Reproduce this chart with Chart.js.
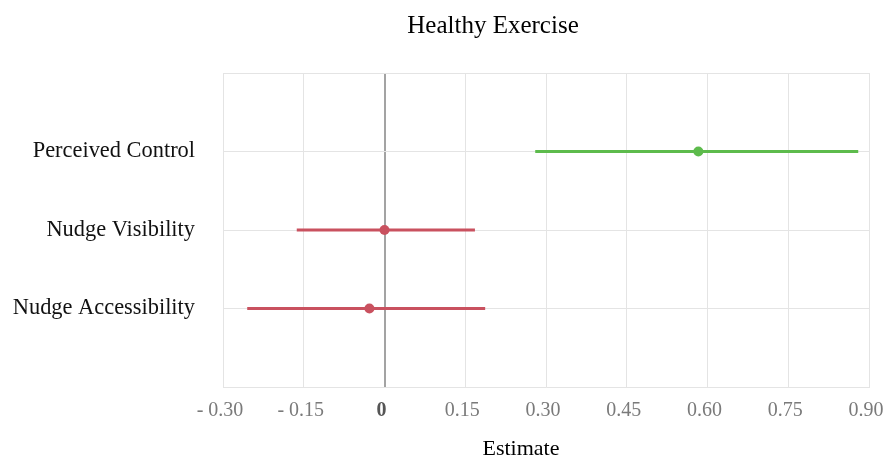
<!DOCTYPE html>
<html>
<head>
<meta charset="utf-8">
<script src="https://cdn.jsdelivr.net/npm/chart.js@4"></script>
<style>
  html, body { margin: 0; padding: 0; background: #ffffff; }
  #wrap { width: 883px; height: 457px; position: relative; }
</style>
</head>
<body>
<div id="wrap"><canvas id="c" width="883" height="457"></canvas></div>
<script>
// ---- data ----
const chartTitle = 'Healthy Exercise';
const axisTitle = 'Estimate';
const categories = ['Perceived Control', 'Nudge Visibility', 'Nudge Accessibility'];
const estimates = [0.583, 0.000, -0.028];
const lowerCI = [0.280, -0.163, -0.255];
const upperCI = [0.880, 0.168, 0.187];
const seriesColors = ['#5dbb4c', '#c9515f', '#c9515f'];
const xTickValues = [-0.30, -0.15, 0, 0.15, 0.30, 0.45, 0.60, 0.75, 0.90];
const xTickLabels = ['- 0.30', '- 0.15', '0', '0.15', '0.30', '0.45', '0.60', '0.75', '0.90'];

const FONT = "'Liberation Serif', 'Times New Roman', serif";

const datasets = [];
categories.forEach((cat, i) => {
  datasets.push({
    label: cat + ' CI',
    data: [{x: lowerCI[i], y: i + 1}, {x: upperCI[i], y: i + 1}],
    showLine: true,
    borderColor: seriesColors[i],
    borderWidth: 3,
    pointRadius: 0,
    pointHoverRadius: 0,
    fill: false
  });
});
datasets.push({
  label: 'Estimate',
  data: estimates.map((v, i) => ({x: v, y: i + 1})),
  showLine: false,
  pointRadius: 5,
  pointHoverRadius: 5,
  backgroundColor: seriesColors,
  borderColor: seriesColors,
  borderWidth: 0
});

const textPlugin = {
  id: 'titles',
  afterDraw(chart) {
    const ctx = chart.ctx;
    ctx.save();
    ctx.fillStyle = '#000000';
    ctx.textAlign = 'center';
    ctx.textBaseline = 'alphabetic';
    ctx.font = '25px ' + FONT;
    ctx.fillText(chartTitle, 493, 33);
    ctx.font = '22px ' + FONT;
    ctx.fillText(axisTitle, 521, 455);
    ctx.restore();
  }
};

new Chart(document.getElementById('c'), {
  type: 'scatter',
  data: { datasets },
  options: {
    responsive: false,
    animation: false,
    events: [],
    layout: { padding: { top: 73, right: 14, left: 0, bottom: 0 } },
    plugins: {
      legend: { display: false },
      tooltip: { enabled: false },
      title: { display: false }
    },
    scales: {
      x: {
        type: 'linear',
        min: -0.30,
        max: 0.90,
        afterBuildTicks(scale) { scale.ticks = xTickValues.map(v => ({ value: v })); },
        afterFit(scale) { scale.height = 70; scale.paddingLeft = 0; scale.paddingRight = 0; },
        ticks: {
          autoSkip: false,
          maxRotation: 0,
          padding: 12,
          labelOffset: -3,
          callback: (value, index) => xTickLabels[index],
          color: (ctx) => ctx.tick && ctx.tick.value === 0 ? '#555555' : '#7a7a7a',
          font: (ctx) => ({ family: FONT, size: 20, weight: ctx.tick && ctx.tick.value === 0 ? 'bold' : 'normal' })
        },
        grid: {
          drawTicks: false,
          color: (ctx) => ctx.tick && ctx.tick.value === 0 ? '#a3a3a3' : '#e4e4e4',
          lineWidth: (ctx) => ctx.tick && ctx.tick.value === 0 ? 2 : 1
        },
        border: { display: true, color: '#e4e4e4', width: 1 }
      },
      y: {
        type: 'linear',
        min: 0,
        max: 4,
        reverse: true,
        afterBuildTicks(scale) { scale.ticks = [0, 1, 2, 3, 4].map(v => ({ value: v })); },
        afterFit(scale) { scale.width = 223; scale.paddingTop = 0; scale.paddingBottom = 0; },
        ticks: {
          autoSkip: false,
          padding: 28,
          color: '#111111',
          font: { family: FONT, size: 22.4 },
          callback: (value) => categories[value - 1] || ''
        },
        grid: { drawTicks: false, color: '#e4e4e4', lineWidth: 1 },
        border: { display: true, color: '#e4e4e4', width: 1 }
      }
    }
  },
  plugins: [textPlugin]
});
</script>
</body>
</html>
